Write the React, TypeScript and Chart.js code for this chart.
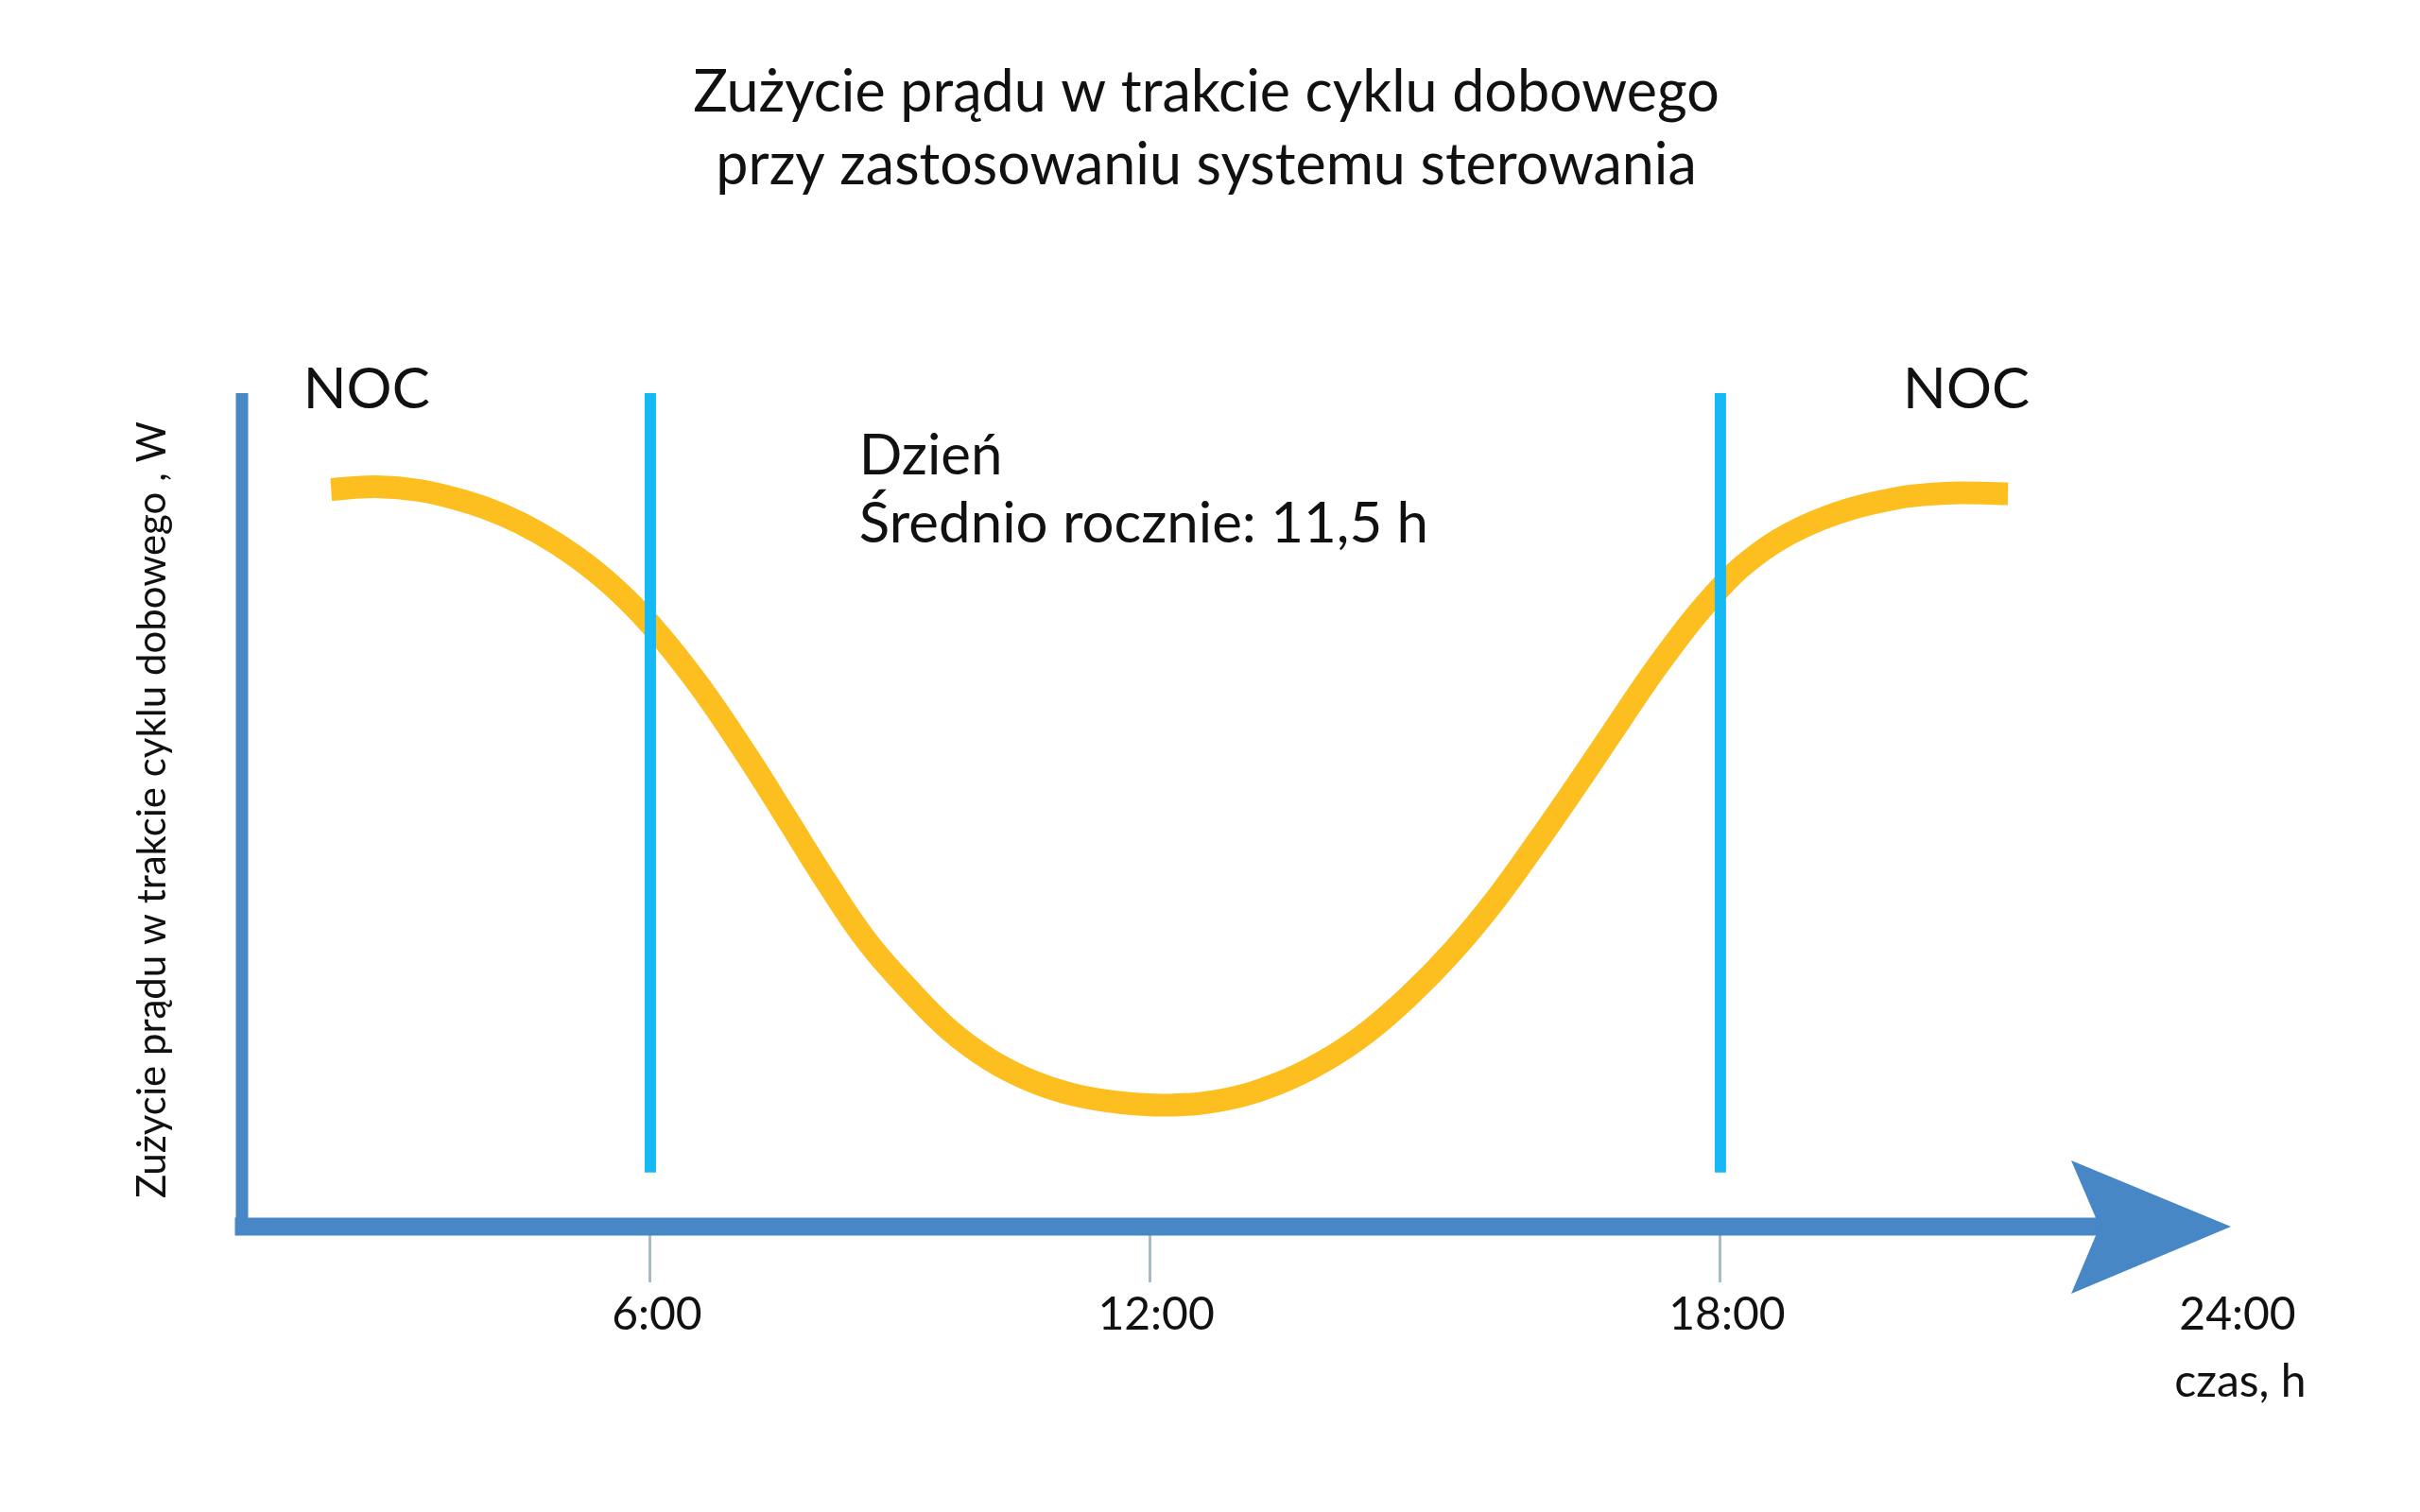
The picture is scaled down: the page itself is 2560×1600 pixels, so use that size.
import React, { useEffect, useRef } from 'react';
import { Chart, registerables, LinearScale } from 'chart.js';

Chart.register(...registerables);

// ---------- data ----------
const TITLE_LINES = ['Zużycie prądu w trakcie cyklu dobowego', 'przy zastosowaniu systemu sterowania'];
const Y_AXIS_TITLE = 'Zużycie prądu w trakcie cyklu dobowego , W';
const X_AXIS_TITLE = 'czas, h';

const TICK_HOURS = [6, 12, 18, 24];
const TICK_LABELS = ['6:00', '12:00', '18:00', '24:00'];

// consumption curve (hour of day, relative power)
const CURVE_HOURS = [
  1.31, 1.96, 2.63, 3.29, 3.82, 4.36, 4.89, 5.42, 6.0, 6.57, 7.15, 7.64, 8.13, 8.61, 9.1, 9.59, 10.09, 10.58, 11.07, 11.65,
  12.21, 12.79, 13.36, 13.82, 14.28, 14.73, 15.19, 15.65, 16.1, 16.47, 16.84, 17.41, 18.0, 18.47, 18.93, 19.51, 20.1, 20.46,
  20.82, 21.38,
];
const CURVE_POWER = [
  88.44, 88.78, 88.29, 86.98, 85.43, 83.24, 80.47, 77.02, 72.26, 65.17, 56.7, 48.97, 41.17, 34.15, 28.54, 23.62, 19.95, 17.47,
  15.86, 14.88, 14.58, 15.24, 17.21, 19.76, 23.25, 27.69, 33.08, 39.42, 46.54, 52.64, 58.89, 68.36, 76.66, 80.94, 83.75, 86.05,
  87.44, 87.87, 88.04, 87.93,
];

// sunrise / sunset markers
const DAY_BOUNDARY_HOURS = [6, 18];
const DAY_BOUNDARY_RANGE = [6.5, 100];

// text annotations (in data units)
const NIGHT_LABELS = ['NOC', 'NOC'];
const NIGHT_LABEL_HOURS = [1.83, 20.89];
const NIGHT_LABEL_LEVEL = 98.2;
const DAY_TEXT_LINES = ['Dzień', 'Średnio rocznie: 11,5 h'];
const DAY_TEXT_HOUR = 8.51;
const DAY_TEXT_LEVELS = [90.2, 82.1];
const X_TITLE_LEVEL = -20.4;

// schematic (non-uniform) time axis
const HOUR_KNOTS = [0, 6, 12, 18, 24];
const KNOT_FRACTIONS = [0, 0.2053, 0.4563, 0.7433, 1];

// ---------- styles ----------
const AXIS_BLUE = '#4787c6';
const DAY_CYAN = '#17b9f4';
const CURVE_YELLOW = '#fcbf1f';
const TICK_GRAY = '#a8bcc3';
const TEXT = '#111111';
const FONT = 'Lato';

function interp(v: number, xs: number[], ys: number[]) {
  const n = xs.length;
  let i = 1;
  if (v <= xs[0]) i = 1;
  else if (v >= xs[n - 1]) i = n - 1;
  else while (i < n - 1 && v > xs[i]) i++;
  const t = (v - xs[i - 1]) / (xs[i] - xs[i - 1]);
  return ys[i - 1] + t * (ys[i] - ys[i - 1]);
}

class PiecewiseHourScale extends LinearScale {
  static id = 'piecewiseHour';
  getPixelForValue(value: any) {
    if (value === null || value === undefined || isNaN(value)) return NaN;
    return this.getPixelForDecimal(interp(+value, HOUR_KNOTS, KNOT_FRACTIONS));
  }
  getValueForPixel(pixel: number) {
    return interp(this.getDecimalForPixel(pixel), KNOT_FRACTIONS, HOUR_KNOTS);
  }
}
Chart.register(PiecewiseHourScale as any);

const schematicPlugin = {
  id: 'schematic',
  beforeDatasetsDraw(chart: any) {
    const { ctx, chartArea, scales } = chart;
    const xs = scales.x;
    const ys = scales.y;
    const left = chartArea.left;
    const top = ys.getPixelForValue(100);
    const base = ys.getPixelForValue(0);
    const tip = xs.getPixelForValue(24);
    ctx.save();
    ctx.fillStyle = AXIS_BLUE;
    // vertical axis
    ctx.fillRect(left - 6.5, top, 13, base - top + 9);
    // horizontal axis bar
    ctx.fillRect(left - 7.5, base - 9.5, tip - 139 - (left - 7.5), 19);
    // arrow head
    ctx.beginPath();
    ctx.moveTo(tip - 169, base - 70);
    ctx.lineTo(tip, base);
    ctx.lineTo(tip - 169, base + 71);
    ctx.lineTo(tip - 139, base);
    ctx.closePath();
    ctx.fill();
    ctx.restore();
  },
  afterDatasetsDraw(chart: any) {
    const { ctx, scales } = chart;
    const xs = scales.x;
    const ys = scales.y;
    ctx.save();
    ctx.fillStyle = TEXT;
    ctx.textBaseline = 'alphabetic';
    ctx.font = `60px ${FONT}`;
    ctx.textAlign = 'center';
    NIGHT_LABELS.forEach((t, i) => {
      ctx.fillText(t, xs.getPixelForValue(NIGHT_LABEL_HOURS[i]), ys.getPixelForValue(NIGHT_LABEL_LEVEL));
    });
    ctx.textAlign = 'left';
    DAY_TEXT_LINES.forEach((t, i) => {
      ctx.fillText(t, xs.getPixelForValue(DAY_TEXT_HOUR), ys.getPixelForValue(DAY_TEXT_LEVELS[i]));
    });
    ctx.font = `48px ${FONT}`;
    const lastLabel = TICK_LABELS[TICK_LABELS.length - 1];
    const w = ctx.measureText(lastLabel).width;
    ctx.fillText(X_AXIS_TITLE, xs.getPixelForValue(24) - w / 2 + 2, ys.getPixelForValue(X_TITLE_LEVEL));
    ctx.restore();
  },
};

export default function App() {
  const ref = useRef<HTMLCanvasElement>(null);
  useEffect(() => {
    const canvas = ref.current!;
    const chart = new Chart(canvas, {
      type: 'line',
      data: {
        datasets: [
          ...DAY_BOUNDARY_HOURS.map((h) => ({
            data: DAY_BOUNDARY_RANGE.map((v) => ({ x: h, y: v })),
            borderColor: DAY_CYAN,
            borderWidth: 12,
            pointRadius: 0,
            borderCapStyle: 'butt' as const,
            order: 0,
          })),
          {
            data: CURVE_HOURS.map((h, i) => ({ x: h, y: CURVE_POWER[i] })),
            borderColor: CURVE_YELLOW,
            borderWidth: 24,
            pointRadius: 0,
            tension: 0.4,
            borderCapStyle: 'butt' as const,
            borderJoinStyle: 'round' as const,
            order: 1,
          },
        ],
      },
      options: {
        animation: false,
        responsive: false,
        devicePixelRatio: 1,
        layout: { padding: { left: 192, right: 200, top: 0, bottom: 0 } },
        plugins: {
          legend: { display: false },
          tooltip: { enabled: false },
          title: {
            display: true,
            text: TITLE_LINES,
            color: TEXT,
            font: { family: FONT, size: 61, weight: 'normal', lineHeight: 77 / 61 },
            padding: { top: 60, bottom: 202 },
          },
        },
        scales: {
          x: {
            type: 'piecewiseHour' as any,
            min: 0,
            max: 24,
            border: { display: false },
            grid: {
              display: true,
              drawOnChartArea: false,
              drawTicks: true,
              tickLength: 59,
              tickWidth: 3,
              tickColor: (c: any) => (c.tick && c.tick.value === 24 ? 'rgba(0,0,0,0)' : TICK_GRAY),
            },
            ticks: {
              autoSkip: false,
              maxRotation: 0,
              minRotation: 0,
              padding: 6,
              labelOffset: 7,
              color: TEXT,
              font: { family: FONT, size: 48 },
              callback: (v: any) => {
                const i = TICK_HOURS.indexOf(Number(v));
                return i >= 0 ? TICK_LABELS[i] : '';
              },
            },
            afterBuildTicks: (s: any) => {
              s.ticks = TICK_HOURS.map((v) => ({ value: v }));
            },
            afterFit: (s: any) => {
              s.height = 302;
            },
          } as any,
          y: {
            type: 'linear',
            min: 0,
            max: 100,
            border: { display: false },
            grid: { display: false },
            ticks: { display: false },
            title: {
              display: true,
              text: Y_AXIS_TITLE,
              color: TEXT,
              font: { family: FONT, size: 42 },
              padding: { top: -56, bottom: 0 },
            },
            afterFit: (s: any) => {
              s.width = 64;
            },
          },
        },
      },
      plugins: [schematicPlugin],
    });
    return () => chart.destroy();
  }, []);
  return (
    <div style={{ position: 'absolute', left: 0, top: 0, width: 2560, height: 1600, background: '#ffffff' }}>
      <canvas ref={ref} width={2560} height={1600} style={{ display: 'block', width: 2560, height: 1600 }} />
    </div>
  );
}
